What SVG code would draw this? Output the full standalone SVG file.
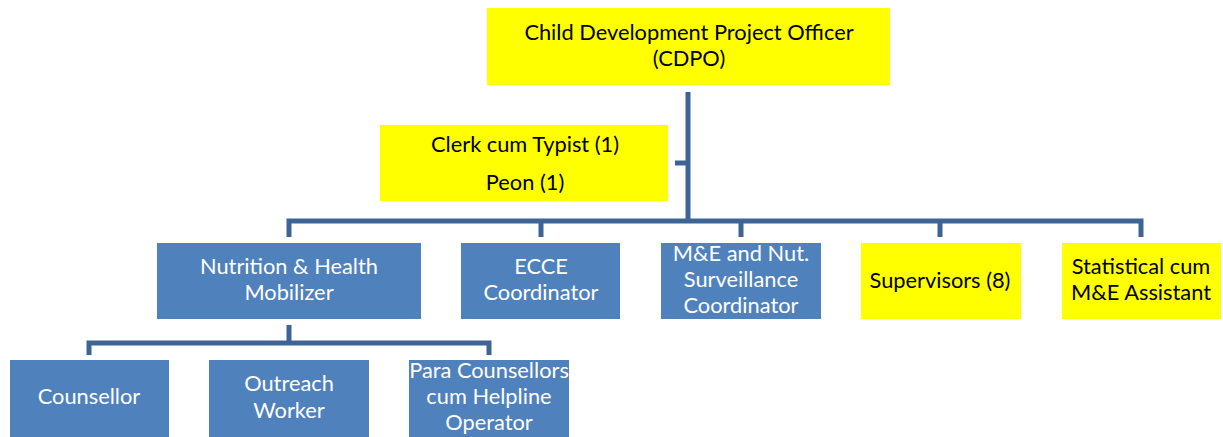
<svg xmlns="http://www.w3.org/2000/svg" width="1223" height="437" viewBox="0 0 1223 437">
<style>
.y{fill:#FFFF00}
.b{fill:#4F81BD}
.t{font-family:Lato,"Liberation Sans",sans-serif;font-size:21.8px;text-anchor:middle}
.tk{fill:#000}
.tw{fill:#fff}
.c{fill:none;stroke:#3E6496;stroke-width:5}
</style>
<rect width="1223" height="437" fill="#fff"/>
<g id="connectors">
<path class="c" d="M688 92V221M675 163H688M289 237V221H1141V237M541 221V237M741 221V237M940 221V237"/>
<path class="c" d="M289 325V343M89 355V343H489V355"/>
</g>
<g id="cdpo"><rect class="y" x="487" y="8" width="403" height="77"/>
<text class="t tk" x="689" y="40">Child Development Project Officer</text>
<text class="t tk" x="689" y="66">(CDPO)</text></g>
<g id="clerk"><rect class="y" x="380" y="125" width="288" height="76"/>
<text class="t tk" x="525" y="152">Clerk cum Typist (1)</text>
<text class="t tk" x="525" y="190">Peon (1)</text></g>
<g id="nutrition"><rect class="b" x="157" y="243" width="264" height="76"/>
<text class="t tw" x="289" y="274">Nutrition &amp; Health</text>
<text class="t tw" x="289" y="300">Mobilizer</text></g>
<g id="ecce"><rect class="b" x="461" y="243" width="159" height="76"/>
<text class="t tw" x="541" y="274">ECCE</text>
<text class="t tw" x="541" y="300">Coordinator</text></g>
<g id="me"><rect class="b" x="661" y="243" width="160" height="76"/>
<text class="t tw" x="741" y="261">M&amp;E and Nut.</text>
<text class="t tw" x="741" y="287">Surveillance</text>
<text class="t tw" x="741" y="313">Coordinator</text></g>
<g id="supervisors"><rect class="y" x="861" y="243" width="160" height="76"/>
<text class="t tk" x="940" y="288">Supervisors (8)</text></g>
<g id="statistical"><rect class="y" x="1062" y="243" width="159" height="76"/>
<text class="t tk" x="1141" y="274">Statistical cum</text>
<text class="t tk" x="1141" y="300">M&amp;E Assistant</text></g>
<g id="counsellor"><rect class="b" x="10" y="360" width="159" height="77"/>
<text class="t tw" x="89" y="404">Counsellor</text></g>
<g id="outreach"><rect class="b" x="209" y="360" width="160" height="77"/>
<text class="t tw" x="289" y="391">Outreach</text>
<text class="t tw" x="289" y="418">Worker</text></g>
<g id="para"><rect class="b" x="409" y="360" width="160" height="77"/>
<text class="t tw" x="489" y="378">Para Counsellors</text>
<text class="t tw" x="489" y="404">cum Helpline</text>
<text class="t tw" x="489" y="430">Operator</text></g>
</svg>
